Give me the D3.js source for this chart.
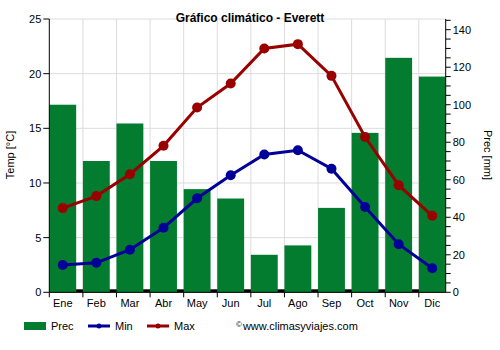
<!DOCTYPE html>
<html><head><meta charset="utf-8">
<script src="https://cdn.jsdelivr.net/npm/d3@7"></script>
<style>body{margin:0;background:#fff}svg{display:block;font-family:"Liberation Sans",Arial,sans-serif}</style>
</head><body><svg id="c" width="500" height="350"></svg>
<script>
const months = ["Ene","Feb","Mar","Abr","May","Jun","Jul","Ago","Sep","Oct","Nov","Dic"];
const prec = [100,70,90,70,55,50,20,25,45,85,125,115];
const tmin = [2.5,2.7,3.9,5.9,8.6,10.7,12.6,13.0,11.3,7.8,4.4,2.2];
const tmax = [7.7,8.8,10.8,13.4,16.9,19.1,22.3,22.7,19.8,14.2,9.8,7.0];
const tempTicks = [0,5,10,15,20,25];
const precTicks = [0,20,40,60,80,100,120,140];

const svg = d3.select("#c");
const L = 49.3, R = 445.7, T = 19, B = 292.3;
const x = d3.scaleBand().domain(months).range([L, R]).paddingInner(0.2).paddingOuter(0);
const y = d3.scaleLinear().domain([0,25]).range([B, T]);
const y2 = d3.scaleLinear().domain([0,145.7]).range([B, T]);

// grid
const g = svg.append("g");
tempTicks.forEach(t => g.append("line").attr("x1",L).attr("x2",R).attr("y1",y(t)).attr("y2",y(t)).attr("stroke","#dcdcdc").attr("stroke-width",1));
months.slice(1).forEach(m => g.append("line").attr("x1",x(m)).attr("x2",x(m)).attr("y1",T).attr("y2",B).attr("stroke","#dcdcdc").attr("stroke-width",1));

// bottom black base
svg.append("rect").attr("x",L).attr("y",B-3).attr("width",R-L).attr("height",3).attr("fill","#000");

// bars
svg.selectAll(".bar").data(prec).enter().append("rect")
  .attr("x",(d,i)=>x(months[i])).attr("width",x.bandwidth())
  .attr("y",d=>y2(d)).attr("height",d=>B-y2(d)).attr("fill","#037c30");

// lines
const line = d3.line().x((d,i)=>x(months[i])+x.bandwidth()/2).y(d=>y(d));
function series(data,color){
  svg.append("path").datum(data).attr("d",line).attr("fill","none").attr("stroke",color).attr("stroke-width",3);
  svg.selectAll(null).data(data).enter().append("circle")
    .attr("cx",(d,i)=>x(months[i])+x.bandwidth()/2).attr("cy",d=>y(d)).attr("r",5).attr("fill",color);
}
series(tmin,"#000099");
series(tmax,"#990000");

// left axis
const ax = svg.append("g").attr("font-size",11);
ax.append("line").attr("x1",L).attr("x2",L).attr("y1",T).attr("y2",B).attr("stroke","#000");
tempTicks.forEach(t=>{
  ax.append("line").attr("x1",L-6).attr("x2",L).attr("y1",y(t)).attr("y2",y(t)).attr("stroke","#000");
  ax.append("text").attr("x",L-8).attr("y",y(t)+4).attr("text-anchor","end").text(t);
});
// right axis
ax.append("line").attr("x1",R).attr("x2",R).attr("y1",T).attr("y2",B).attr("stroke","#000");
d3.range(0,146,5).forEach(t=>{
  ax.append("line").attr("x1",R).attr("x2",R+5).attr("y1",y2(t)).attr("y2",y2(t)).attr("stroke","#000");
});
precTicks.forEach(t=>{
  ax.append("text").attr("x",R+7).attr("y",y2(t)+4).attr("text-anchor","start").text(t);
});
// bottom axis
ax.append("line").attr("x1",L).attr("x2",R).attr("y1",B).attr("y2",B).attr("stroke","#000");
months.forEach(m=>{
  ax.append("line").attr("x1",x(m)).attr("x2",x(m)).attr("y1",B).attr("y2",B+5).attr("stroke","#000");
  ax.append("text").attr("x",x(m)+x.bandwidth()/2).attr("y",B+15).attr("text-anchor","middle").text(m);
});

// titles
svg.append("text").attr("x",250).attr("y",22).attr("text-anchor","middle").attr("font-size",12).attr("font-weight","bold").text("Gráfico climático - Everett");
svg.append("text").attr("transform","translate(14,155) rotate(-90)").attr("text-anchor","middle").attr("font-size",11).text("Temp [°C]");
svg.append("text").attr("transform","translate(484,155) rotate(90)").attr("text-anchor","middle").attr("font-size",11).text("Prec [mm]");

// legend
const lg = svg.append("g").attr("font-size",11);
lg.append("rect").attr("x",24).attr("y",322).attr("width",22).attr("height",8).attr("fill","#037c30");
lg.append("text").attr("x",51).attr("y",330).text("Prec");
lg.append("line").attr("x1",88).attr("x2",110).attr("y1",326).attr("y2",326).attr("stroke","#000099").attr("stroke-width",3);
lg.append("circle").attr("cx",99).attr("cy",326).attr("r",2.5).attr("fill","#000099");
lg.append("text").attr("x",115).attr("y",330).text("Min");
lg.append("line").attr("x1",147).attr("x2",169).attr("y1",326).attr("y2",326).attr("stroke","#990000").attr("stroke-width",3);
lg.append("circle").attr("cx",158).attr("cy",326).attr("r",2.5).attr("fill","#990000");
lg.append("text").attr("x",174).attr("y",330).text("Max");
const cp = lg.append("text").attr("x",236).attr("y",330);
cp.append("tspan").attr("font-size",8).attr("dy",-3).text("©");
cp.append("tspan").attr("dy",3).attr("dx",1).text("www.climasyviajes.com");
</script></body></html>
